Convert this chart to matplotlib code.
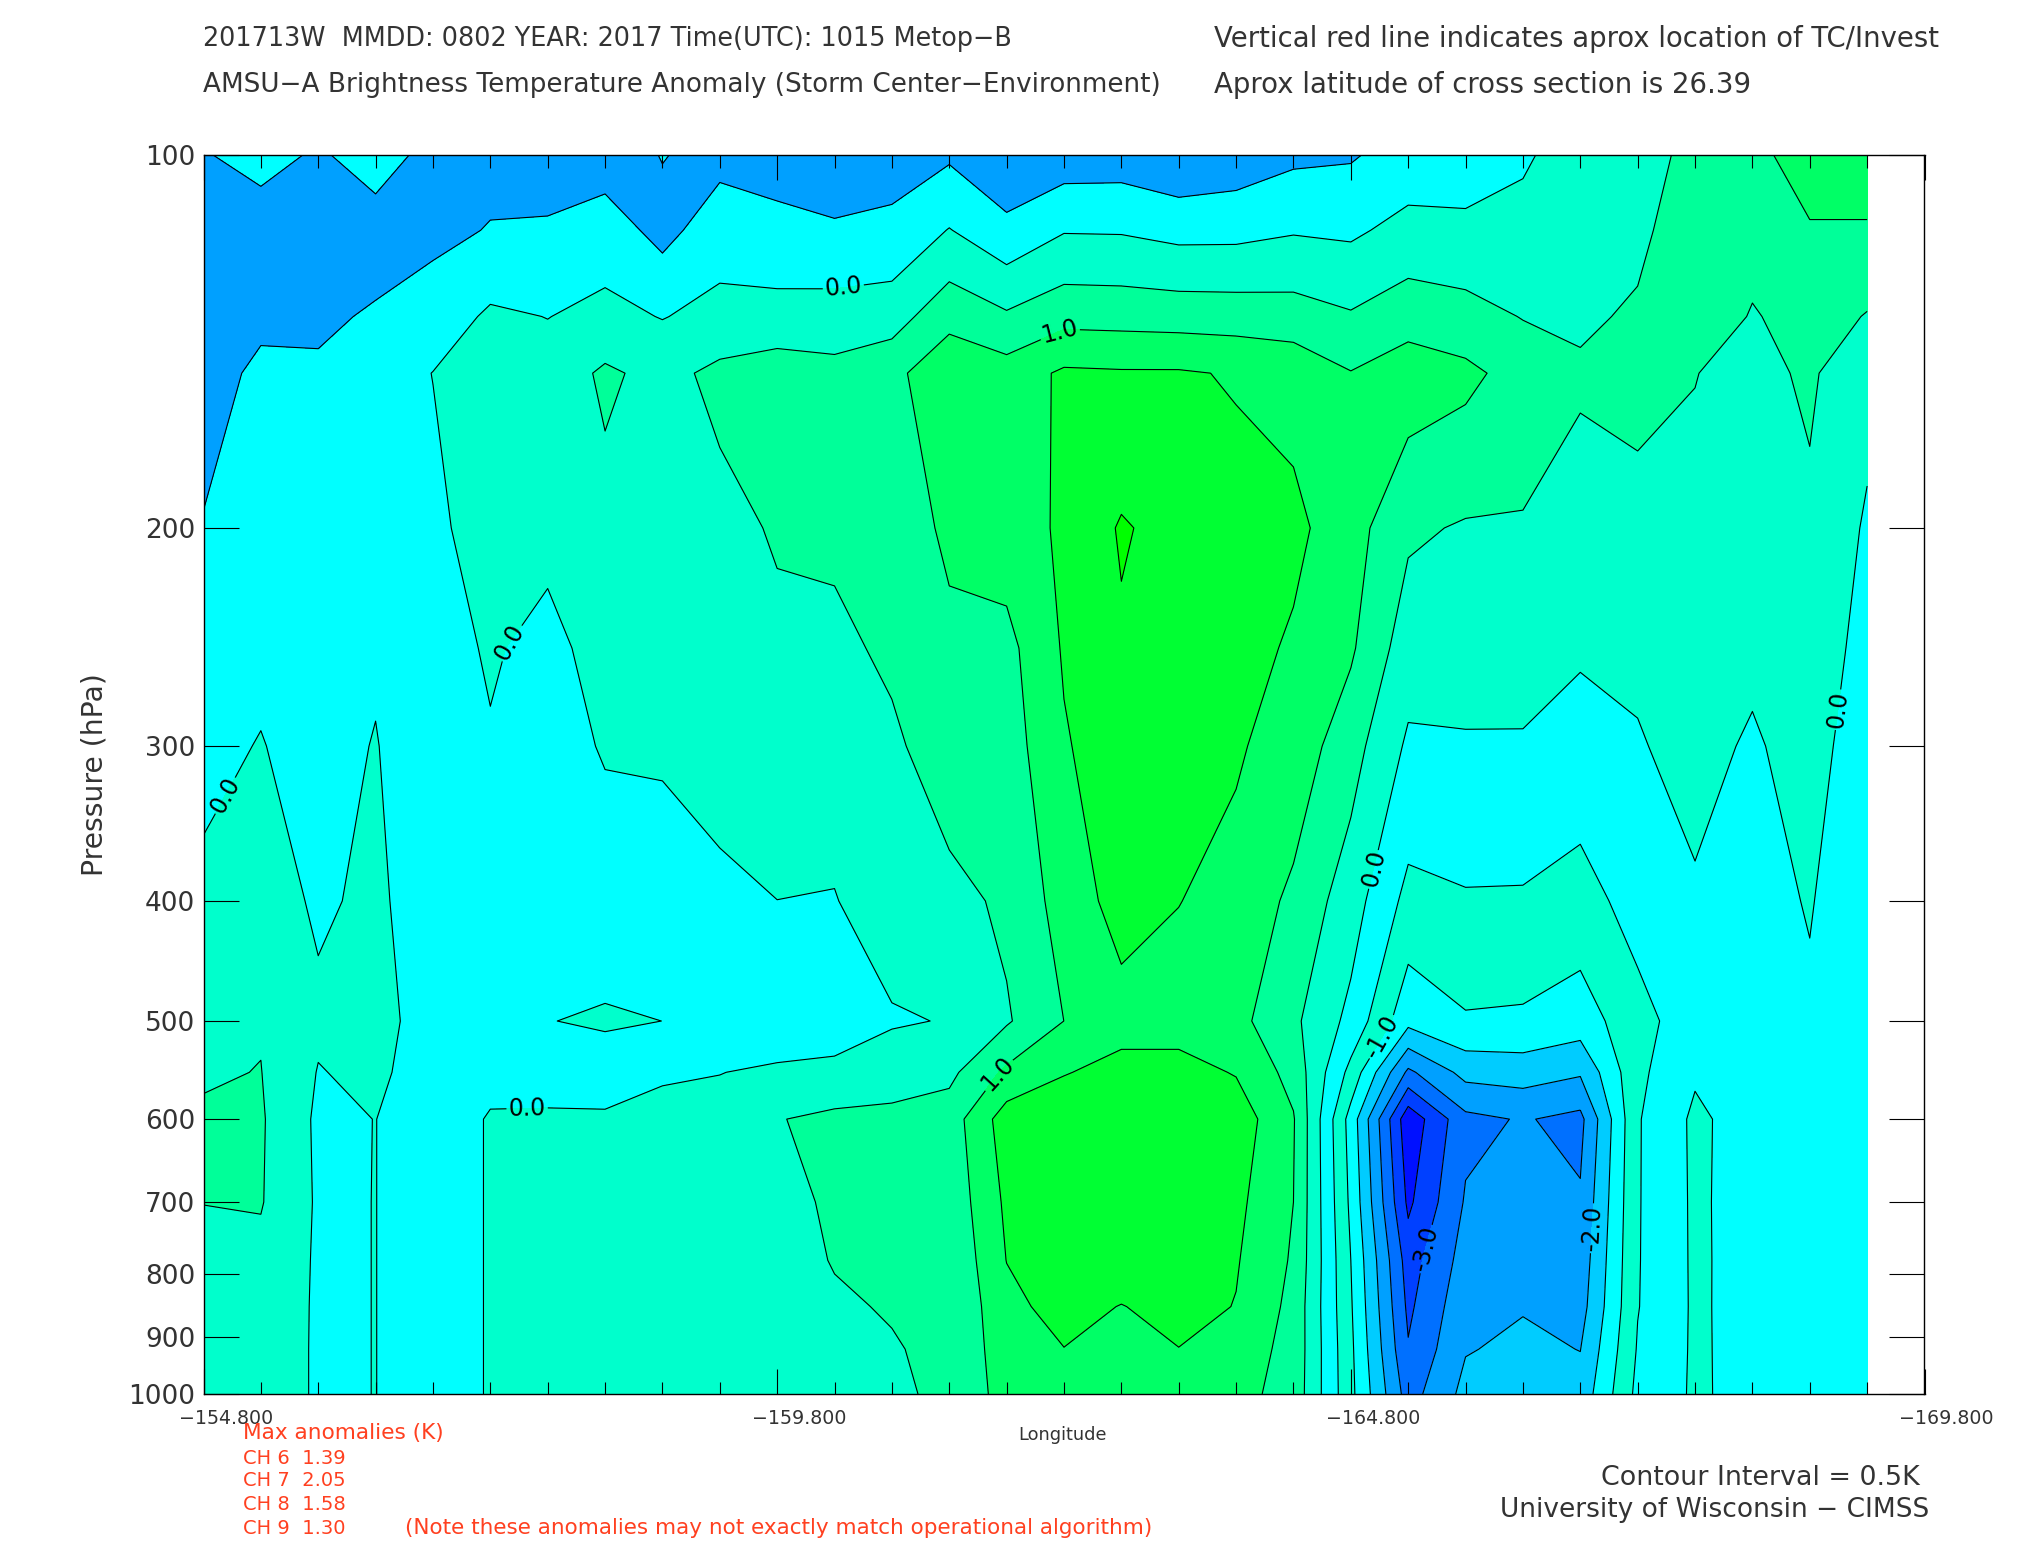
import matplotlib
matplotlib.use("Agg")
import matplotlib.pyplot as plt
import numpy as np

plt.rcParams['font.family'] = ['DejaVu Sans']

lon = [-154.8, -155.3, -155.8, -156.3, -156.8, -157.3, -157.8, -158.3, -158.8, -159.3,
       -159.8, -160.3, -160.8, -161.3, -161.8, -162.3, -162.8, -163.3, -163.8, -164.3,
       -164.8, -165.3, -165.8, -166.3, -166.8, -167.3, -167.8, -168.3, -168.8, -169.3]
pres = [100, 115, 135, 150, 200, 250, 300, 400, 500, 550, 600, 700, 780, 850, 920, 1000]

# one list per longitude, top of the section first
c00 = [-.56, -.8, -.75, -.7, -.47, -.3, -.14, .12, .36, .46, .55, .505, .4, .35, .3, .3]
c01 = [-.2, -.95, -.6, -.4, -.2, -.122, .025, .2, .469, .51, .55, .53, .38, .32, .3, .3]
c02 = [-.61, -.75, -.65, -.38, -.25, -.24, -.23, -.06, .08, -.02, -.083, -.06, -.06, -.06, -.06, -.06]
c03 = [-.12, -.88, -.405, -.3, -.22, -.08, .03, .083, .189, .1, .005, .005, .005, .005, .005, .005]
c04 = [-.77, -.6, -.3, .01, -.15, -.15, -.45, -.25, -.25, -.25, -.25, -.25, -.25, -.25, -.25, -.25]
c05 = [-.62, -.48, .085, .3, .32, .04, -.03, -.3, -.35, -.12, .034, .034, .034, .034, .034, .034]
c06 = [-.7, -.45, -.01, .21, .1, -.11, -.2, -.3, -.01, -.1, .033, .2, .25, .3, .3, .3]
c07 = [-.75, -.25, .136, .58, .345, .15, .04, -.26, .05, -.2, .056, .2, .25, .3, .3, .35]
c08 = [-.48, -.66, -.02, .35, .3, .2, .05, -.2, -.001, -.1, .257, .3, .3, .3, .3, .3]
c09 = [-.65, -.22, .15, .62, .35, .25, .1, -.06, -.2, -.01, .17, .3, .35, .35, .35, .35]
c10 = [-.72, -.35, .18, .76, .55, .39, .22, -.002, -.33, .08, .48, .3, .35, .35, .35, .35]
c11 = [-.75, -.45, .23, .64, .6, .38, .2, -.02, -.33, .16, .6, .6, .52, .45, .37, .35]
c12 = [-.75, -.36, .27, .87, .7, .6, .4, .25, -.05, .28, .62, .6, .6, .53, .47, .35]
c13 = [-.57, .02, .85, 1.35, 1.1, .88, .8, .33, .025, .38, .74, .65, .55, .55, .6, .68]
c14 = [-.95, -.35, .57, 1.22, 1.25, .85, .75, .6, .444, 1.1, 1.75, 1.59, 1.51, 1.35, 1.25, 1.15]
c15 = [-.77, -.03, .84, 1.58, 1.58, 1.55, 1.45, 1.2, 1.002, 1.47, 1.88, 1.9, 1.85, 1.7, 1.49, 1.3]
c16 = [-.75, -.04, .82, 1.55, 2.05, 1.93, 1.81, 1.7, 1.3, 1.67, 1.97, 1.95, 1.85, 1.48, 1.3, 1.25]
c17 = [-.92, -.15, .79, 1.55, 1.82, 1.9, 1.8, 1.51, 1.3, 1.67, 1.97, 1.9, 1.8, 1.7, 1.49, 1.25]
c18 = [-.8, -.14, .77, 1.46, 1.68, 1.7, 1.55, 1.35, 1.15, 1.47, 1.78, 1.62, 1.54, 1.48, 1.25, 1.15]
c19 = [-.6, -.04, .73, 1.34, 1.62, 1.43, 1.3, .89, .6, .82, 1.04, 1.0, .94, .86, .85, .82]
c20 = [-.55, -.08, .55, 1.02, 1.21, 1.07, .7, .23, -.14, -.65, -1.2, -1.1, -1.0, -.95, -.9, -.87]
c21 = [-.28, .15, .8, 1.26, .58, .23, -.08, -.65, -1.35, -2.6, -3.85, -3.6, -3.23, -3.1, -2.96, -2.72]
c22 = [-.3, .13, .68, 1.12, .453, .22, -.05, -.55, -1.05, -1.84, -2.63, -2.45, -2.3, -2.15, -2.03, -1.85]
c23 = [-.12, .28, .48, .8, .455, .17, -.04, -.56, -1.08, -1.77, -2.46, -2.35, -2.2, -2.03, -1.9, -1.75]
c24 = [.42, .4, .38, .605, .15, .06, -.2, -.7, -1.245, -1.94, -2.64, -2.44, -2.3, -2.2, -2.01, -1.82]
c25 = [.2, .33, .6, .85, .1, .08, -.035, -.3, -.68, -.61, -.54, -.535, -.53, -.52, -.46, -.37]
c26 = [.71, .95, .95, .51, .39, .25, .15, -.06, -.21, -.06, .092, .08, .075, .07, .068, .065]
c27 = [.8, .75, .45, .366, .3, .1, -.06, -.21, -.25, -.23, -.21, -.2, -.18, -.17, -.16, -.147]
c28 = [1.34, .94, .75, .57, .41, .3, .2, .04, -.1, -.15, -.2, -.2, -.2, -.2, -.2, -.2]
c29 = [1.34, .94, .47, .14, -.06, -.176, -.288, -.45, -.3, -.25, -.2, -.2, -.2, -.2, -.2, -.2]

anom = np.array([c00, c01, c02, c03, c04, c05, c06, c07, c08, c09,
                 c10, c11, c12, c13, c14, c15, c16, c17, c18, c19,
                 c20, c21, c22, c23, c24, c25, c26, c27, c28, c29]).T

levels = [-4.5, -3.5, -3, -2.5, -2, -1.5, -1, -.5, 0, .5, 1, 1.5, 2, 2.5]
labelled_levels = [-3, -2, -1, 0, 1]
plain_levels = [-3.5, -2.5, -1.5, -.5, .5, 1.5, 2]
band_colors = ['#0010FF', '#0040FF', '#0070FF', '#00A0FF', '#00CCFF', '#00FFFF', '#00FFCC',
               '#00FFFF', '#00FFCC', '#00FF99', '#00FF66', '#00FF33', '#00FF00']
UPPER_ROWS = 6  # the stratospheric cold patch is coloured differently from the core

xticks = [-154.8, -159.8, -164.8, -169.8]
yticks = [100, 200, 300, 400, 500, 600, 700, 800, 900, 1000]
label_spots = [(-160.37, 126.5), (-157.49, 247.9), (-154.94, 326.7), (-157.62, 584), (-164.97, 376),
               (-168.97, 279.5), (-162.23, 136.6), (-161.67, 547), (-165.03, 512), (-165.38, 760),
               (-166.82, 734)]

fig = plt.figure(figsize=(20.25, 15.5), dpi=100)
ax = fig.add_axes([203.5 / 2025, 1 - 1394 / 1550, 1721 / 2025, 1239 / 1550])

ax.set_yscale('log')
ax.set_xlim(-154.8, -169.8)
ax.set_ylim(1000, 100)

ax.contourf(lon, pres, anom, levels=levels, colors=band_colors)
ax.contourf(lon, pres[:UPPER_ROWS], anom[:UPPER_ROWS], levels=[-1.5, -.5], colors=['#00A0FF'])
ax.contour(lon, pres, anom, levels=plain_levels, colors='black', linewidths=0.8, linestyles='solid')
lines = ax.contour(lon, pres, anom, levels=labelled_levels, colors='black', linewidths=0.8,
                   linestyles='solid')
ax.clabel(lines, manual=label_spots, fmt='%.1f', fontsize=17, inline=True, inline_spacing=2)

ax.set_yticks(yticks)
ax.set_yticklabels([str(v) for v in yticks], fontsize=19, color='#333333')
ax.minorticks_off()
ax.set_xticks(xticks)
ax.set_xticklabels([])
ax.set_xticks(-154.8 - 0.5 * np.arange(31), minor=True)
ax.tick_params(axis='y', which='major', direction='in', length=25, width=0.8, left=True, right=True, pad=6)
ax.tick_params(axis='x', which='major', direction='in', length=18, width=0.8, top=True, bottom=True)
ax.tick_params(axis='x', which='minor', direction='in', length=9, width=0.8, top=True, bottom=True)
for s in ax.spines.values():
    s.set_linewidth(1.0)
ax.set_axisbelow(False)

for v in xticks:
    ax.annotate(f"\u2212{abs(v):.3f}", (v, 1000), xytext=(16, -11), textcoords='offset points',
                ha='center', va='top', fontsize=13.7, color='#333333', annotation_clip=False)


def put(px, py, txt, **kw):
    fig.text(px / 2025, 1 - py / 1550, txt, va='center', **kw)


dark = '#333333'
put(203, 39, "201713W  MMDD: 0802 YEAR: 2017 Time(UTC): 1015 Metop\u2212B", fontsize=18.4, color=dark)
put(203, 85, "AMSU\u2212A Brightness Temperature Anomaly (Storm Center\u2212Environment)", fontsize=18.9, color=dark)
put(1214, 39, "Vertical red line indicates aprox location of TC/Invest", fontsize=19.8, color=dark)
put(1214, 85, "Aprox latitude of cross section is 26.39", fontsize=19.9, color=dark)

put(95, 775, "Pressure (hPa)", fontsize=20.3, rotation=90, ha='center', color=dark)
put(1063, 1435, "Longitude", fontsize=12.8, ha='center', color=dark)

red = '#FF4020'
put(243, 1433, "Max anomalies (K)", fontsize=15.6, color=red)
put(243, 1458, "CH 6  1.39", fontsize=14, color=red)
put(243, 1481, "CH 7  2.05", fontsize=14, color=red)
put(243, 1504, "CH 8  1.58", fontsize=14, color=red)
put(243, 1528, "CH 9  1.30", fontsize=14, color=red)
put(405, 1528, "(Note these anomalies may not exactly match operational algorithm)", fontsize=15.5, color=red)

put(1920, 1478, "Contour Interval = 0.5K", fontsize=19.4, ha='right', color=dark)
put(1929, 1510, "University of Wisconsin \u2212 CIMSS", fontsize=19, ha='right', color=dark)

fig.savefig("out.png", dpi=100)
